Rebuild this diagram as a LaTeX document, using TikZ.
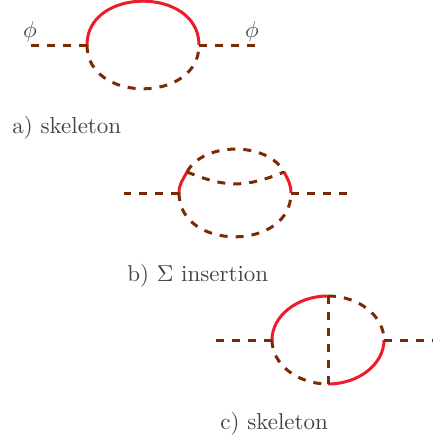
\documentclass[tikz,border=0pt]{standalone}
\usepackage{tikz}
\usepackage{xcolor}
\usetikzlibrary{positioning}
\definecolor{gluonbrown}{HTML}{7A2A05}
\definecolor{quarkred}{HTML}{EE1C2A}
\definecolor{captiongray}{HTML}{444444}

\begin{document}
\begin{tikzpicture}[
    x=1pt, y=1pt,
    quark/.style={quarkred, line width=3pt},
    scalar/.style={gluonbrown, line width=3pt, dash pattern=on 8pt off 8pt},
    caption/.style={captiongray, inner sep=0pt, scale=2.3},
    halfup/.style={out=90, in=90, looseness=1.338},
    halfdown/.style={out=-90, in=-90, looseness=1.338},
    upleft/.style={out=90, in=180, out looseness=.87, in looseness=1.107},
    upright/.style={out=0, in=90, out looseness=1.107, in looseness=.87},
    downleft/.style={out=-90, in=180, out looseness=.87, in looseness=1.107},
    downright/.style={out=0, in=-90, out looseness=1.107, in looseness=.87}
]
\useasboundingbox (0,-439) rectangle (433,0);

% a) skeleton
\coordinate (a1) at (87,-45);
\coordinate (a2) at (199,-45);
\coordinate (ain) at (31,-45);
\coordinate (aout) at (255,-45);
\draw[quark] (a1) to[halfup] (a2);
\draw[scalar] (a1) to[halfdown] (a2);
\draw[scalar] (a1) -- (ain);
\draw[scalar] (a2) -- (aout);
\node[caption] (phil) at (30,-32) {$\phi$};
\node[caption] (phir) at (252,-32) {$\phi$};
\node[caption, anchor=base west] (capa) at (12,-133) {a) skeleton};

% b) Sigma insertion
\coordinate (b1) at (179,-193);
\coordinate (b2) at (291,-193);
\coordinate (b3) at (187,-172);
\coordinate (b4) at (284,-172);
\coordinate (bin) at (124,-193);
\coordinate (bout) at (347,-193);
\draw[quark] (b1) to[out=90, in=-118] (b3);
\draw[quark] (b4) to[out=-62, in=90] (b2);
\draw[scalar] (b3) to[out=62, in=118, looseness=.915] (b4);
\draw[scalar] (b3) to[out=-22, in=-158, looseness=1.12] (b4);
\draw[scalar] (b1) to[halfdown] (b2);
\draw[scalar] (b1) -- (bin);
\draw[scalar] (b2) -- (bout);
\node[caption, anchor=base west] (capb) at (127,-281) {b) $\Sigma$ insertion};

% c) skeleton
\coordinate (c1) at (272,-340);
\coordinate (c2) at (384,-340);
\coordinate (c3) at (328,-296);
\coordinate (c4) at (328,-384);
\coordinate (cin) at (216,-340);
\coordinate (cout) at (433,-340);
\draw[quark] (c1) to[upleft] (c3);
\draw[quark] (c4) to[downright] (c2);
\draw[scalar] (c3) to[upright] (c2);
\draw[scalar] (c1) to[downleft] (c4);
\draw[scalar] (c3) -- (c4);
\draw[scalar] (c1) -- (cin);
\draw[scalar] (c2) -- (cout);
\node[caption, anchor=base west] (capc) at (220,-429) {c) skeleton};

\end{tikzpicture}
\end{document}
